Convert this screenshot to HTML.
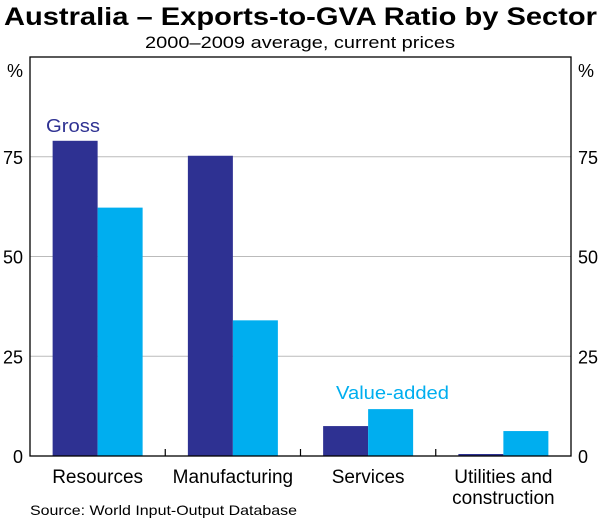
<!DOCTYPE html>
<html><head><meta charset="utf-8"><style>
body{margin:0;background:#fff;font-family:"Liberation Sans",Arial,sans-serif}
</style></head><body>
<svg width="600" height="519" xmlns="http://www.w3.org/2000/svg" font-family="Liberation Sans, Arial, sans-serif">
<text x="4" y="25" textLength="593" lengthAdjust="spacingAndGlyphs" font-size="25" font-weight="bold">Australia – Exports-to-GVA Ratio by Sector</text>
<text x="145" y="48" textLength="310" lengthAdjust="spacingAndGlyphs" font-size="17">2000–2009 average, current prices</text>
<g id="grid"></g>
<g id="bars"></g>
<rect x="30" y="57" width="541" height="399" fill="none" stroke="#000" stroke-width="1.3"/>
<g id="axes"></g>
<text x="15" y="77" text-anchor="middle" font-size="18">%</text>
<text x="586" y="77" text-anchor="middle" font-size="18">%</text>
<text x="46" y="132" textLength="54" lengthAdjust="spacingAndGlyphs" font-size="18" fill="#2e3192">Gross</text>
<text x="336" y="399" textLength="113" lengthAdjust="spacingAndGlyphs" font-size="18" fill="#00aeef">Value-added</text>
<text x="30" y="515" textLength="267" lengthAdjust="spacingAndGlyphs" font-size="14">Source: World Input-Output Database</text>
</svg>
<script>
const categories=[["Resources"],["Manufacturing"],["Services"],["Utilities and","construction"]];
const gross=[79,75.25,7.5,0.5];
const valueAdded=[62.25,34,11.75,6.25];
const yTicks=[0,25,50,75];
const NS="http://www.w3.org/2000/svg";
const L=30,R=571,T=57,B=456,ymax=100;
const y=v=>B-(B-T)*v/ymax;
const cw=(R-L)/categories.length;
const bw=45;
function mk(t,a,p){const e=document.createElementNS(NS,t);for(const k in a)e.setAttribute(k,a[k]);document.getElementById(p).appendChild(e);return e;}
yTicks.forEach(v=>{
 if(v>0){const g=mk('line',{x1:L,x2:R,y1:y(v),y2:y(v),stroke:'#bbb','stroke-width':1},'grid');
 
 }
 const a=mk('text',{x:L-7,y:y(v)+7,'text-anchor':'end','font-size':18},'axes');a.textContent=v;
 
 
 const b=mk('text',{x:R+7,y:y(v)+7,'text-anchor':'start','font-size':18},'axes');b.textContent=v;
 
 
});
categories.forEach((c,i)=>{
 const cx=L+cw*(i+0.5);
 const r1=mk('rect',{x:cx-bw,y:y(gross[i]),width:bw,height:B-y(gross[i]),fill:'#2e3192'},'bars');
 
 
 const r2=mk('rect',{x:cx,y:y(valueAdded[i]),width:bw,height:B-y(valueAdded[i]),fill:'#00aeef'},'bars');
 
 
 if(i>0){const tk=mk('line',{x1:L+cw*i,x2:L+cw*i,y1:B,y2:B-7,stroke:'#000','stroke-width':1.2},'axes');
 
 }
 c.forEach((ln,j)=>{const t=mk('text',{x:cx,y:483+j*21,'text-anchor':'middle','font-size':19},'axes');t.textContent=ln;
 
 });
});
</script>
</body></html>
